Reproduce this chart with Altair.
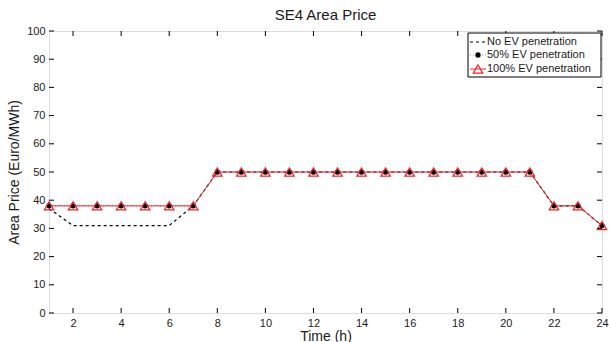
import altair as alt
import pandas as pd

# Hourly SE4 area price (Euro/MWh) for three EV penetration scenarios
hours = list(range(1, 25))
no_ev = [37, 31, 31, 31, 31, 31, 38] + [50] * 14 + [38, 38, 31]
ev50 = [38] * 7 + [50] * 14 + [38, 38, 31]
ev100 = [38] * 7 + [50] * 14 + [38, 38, 31]

x_ticks = list(range(2, 25, 2))
y_ticks = list(range(0, 101, 10))
legend_labels = ["No EV penetration", "50% EV penetration", "100% EV penetration"]

W, H = 553, 282
FONT = "Liberation Sans"
TRI_SIZE = 90

df = pd.DataFrame({"hour": hours, "no_ev": no_ev, "ev50": ev50, "ev100": ev100})

xs = alt.Scale(domain=[1, 24], nice=False, zero=False)
ys = alt.Scale(domain=[0, 100], nice=False)

axis_common = dict(grid=False, domain=False, ticks=False, labelFlush=False, labelOverlap=False,
                   labelFont=FONT, labelFontSize=11, labelColor="#1a1a1a",
                   titleFont=FONT, titleFontSize=14, titleFontWeight="normal", titleColor="#1a1a1a")
x_axis = alt.Axis(values=x_ticks, tickCount=12, title="Time (h)", labelPadding=4, titlePadding=1,
                  **axis_common)
y_axis = alt.Axis(values=y_ticks, tickCount=len(y_ticks), title="Area Price (Euro/MWh)",
                  labelPadding=4, titlePadding=5, **axis_common)

base = alt.Chart(df)

line_none = base.mark_line(color="black", strokeDash=[3, 3], strokeWidth=1.2).encode(
    x=alt.X("hour:Q", scale=xs, axis=x_axis),
    y=alt.Y("no_ev:Q", scale=ys, axis=y_axis),
)
line_50 = base.mark_line(color="#888888", strokeDash=[1, 2], strokeWidth=1).encode(
    x="hour:Q", y=alt.Y("ev50:Q", axis=y_axis)
)
pts_50 = base.mark_point(shape="circle", filled=True, color="black", size=28, opacity=1).encode(
    x="hour:Q", y=alt.Y("ev50:Q", axis=y_axis)
)
line_100 = base.mark_line(color="#e8262a", strokeWidth=1).encode(
    x="hour:Q", y=alt.Y("ev100:Q", axis=y_axis)
)
pts_100 = base.mark_point(shape="triangle-up", filled=False, color="#e8262a", size=TRI_SIZE,
                          strokeWidth=1.2, opacity=1).encode(
    x="hour:Q", y=alt.Y("ev100:Q", axis=y_axis)
)

# Inward tick marks on all four sides of the frame
xt = alt.Chart(pd.DataFrame({"hour": x_ticks}))
yt = alt.Chart(pd.DataFrame({"no_ev": y_ticks}))
tick_style = dict(color="black", strokeWidth=1)
ticks_bottom = xt.mark_rule(**tick_style).encode(x="hour:Q", y=alt.value(H), y2=alt.value(H - 5))
ticks_top = xt.mark_rule(**tick_style).encode(x="hour:Q", y=alt.value(0), y2=alt.value(5))
ticks_left = yt.mark_rule(**tick_style).encode(y=alt.Y("no_ev:Q", axis=y_axis), x=alt.value(0), x2=alt.value(5))
ticks_right = yt.mark_rule(**tick_style).encode(y=alt.Y("no_ev:Q", axis=y_axis), x=alt.value(W), x2=alt.value(W - 5))

# Legend box in the top-right corner
one = alt.Chart(pd.DataFrame({"k": [0]}))
lx0, lx1, ly0, ly1 = 419, 552, 2, 46
row_y = [11, 24, 38]
legend_box = one.mark_rect(fill="white", stroke="black", strokeWidth=1).encode(
    x=alt.value(lx0), x2=alt.value(lx1), y=alt.value(ly0), y2=alt.value(ly1)
)
leg_line0 = one.mark_rule(color="black", strokeDash=[3, 3], strokeWidth=1.2).encode(
    x=alt.value(lx0 + 2), x2=alt.value(lx0 + 18), y=alt.value(row_y[0])
)
leg_line1 = one.mark_rule(color="#888888", strokeDash=[1, 2], strokeWidth=1).encode(
    x=alt.value(lx0 + 2), x2=alt.value(lx0 + 18), y=alt.value(row_y[1])
)
leg_pt1 = one.mark_point(shape="circle", filled=True, color="black", size=28, opacity=1).encode(
    x=alt.value(lx0 + 10), y=alt.value(row_y[1])
)
leg_line2 = one.mark_rule(color="#e8262a", strokeWidth=1).encode(
    x=alt.value(lx0 + 2), x2=alt.value(lx0 + 18), y=alt.value(row_y[2])
)
leg_pt2 = one.mark_point(shape="triangle-up", filled=False, color="#e8262a", size=TRI_SIZE,
                         strokeWidth=1.2, opacity=1).encode(
    x=alt.value(lx0 + 10), y=alt.value(row_y[2])
)
leg_text = [
    one.mark_text(align="left", baseline="middle", font=FONT, fontSize=11, color="#1a1a1a").encode(
        x=alt.value(lx0 + 19), y=alt.value(yy), text=alt.value(lab)
    )
    for lab, yy in zip(legend_labels, row_y)
]

chart = alt.layer(
    line_none, line_50, line_100, pts_50, pts_100,
    ticks_bottom, ticks_top, ticks_left, ticks_right,
    legend_box, leg_line0, leg_line1, leg_pt1, leg_line2, leg_pt2, *leg_text,
).properties(
    width=W, height=H,
    title=alt.TitleParams("SE4 Area Price", font=FONT, fontSize=15, fontWeight="normal",
                          color="#1a1a1a", offset=2),
    autosize=alt.AutoSizeParams(type="none"),
    padding={"left": 49, "top": 31, "right": 7, "bottom": 29},
).configure_view(
    stroke="black", strokeWidth=1.4
).configure(background="white")

chart.save("out.html", embed_options={"renderer": "svg", "actions": False})
